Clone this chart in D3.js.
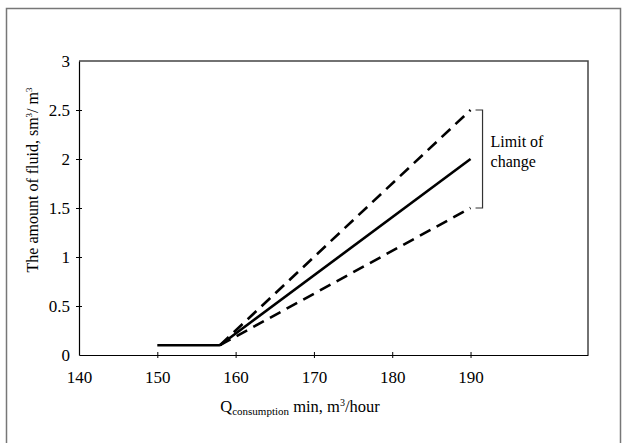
<!DOCTYPE html>
<html>
  <head>
    <meta charset="utf-8" />
    <script src="https://d3js.org/d3.v7.min.js"></script>
    <style>
        body { margin: 0; background: #fff; }
        svg text { font-family: "Liberation Serif", "Times New Roman", serif; fill: #000; }
    </style>
  </head>
  <body>
    <svg id="chart" width="622" height="443"></svg>
    <script>
        // data
        var xTicks = [140, 150, 160, 170, 180, 190];
        var yTicks = [0, 0.5, 1, 1.5, 2, 2.5, 3];
        var flatX = [150, 158];
        var flatY = [0.1, 0.1];
        var midX = [158, 190];
        var midY = [0.1, 2.0];
        var upperX = [158, 190];
        var upperY = [0.1, 2.5];
        var lowerX = [158, 190];
        var lowerY = [0.1, 1.5];
        var limitLabel = ["Limit of", "change"];

        var serif = "'Liberation Serif', 'Times New Roman', serif";
        var svg = d3.select("#chart");

        // outer frame
        svg.append("rect")
            .attr("x", 6.5).attr("y", 8.5)
            .attr("width", 614).attr("height", 460)
            .attr("fill", "none")
            .attr("stroke", "#777")
            .attr("stroke-width", 1.5);

        var pLeft = 79, pRight = 588, pTop = 61, pBottom = 355;

        var x = d3.scaleLinear().domain([140, 205]).range([pLeft, pRight]);
        var y = d3.scaleLinear().domain([0, 3]).range([pBottom, pTop]);

        // plot box (top + right)
        svg.append("path")
            .attr("d", "M" + pLeft + "," + pTop + "H" + pRight + "V" + pBottom)
            .attr("fill", "none")
            .attr("stroke", "#444")
            .attr("stroke-width", 1.5);

        var xAxis = svg.append("g")
            .attr("transform", "translate(0," + pBottom + ")")
            .call(d3.axisBottom(x).tickValues(xTicks).tickSize(0).tickPadding(16));
        xAxis.select(".domain").attr("stroke", "#000").attr("stroke-width", 1.2);
        xAxis.selectAll("text").style("font-family", serif).style("font-size", "17px");
        xAxis.selectAll(".tick").filter(function (d) { return d !== 140; })
            .append("line").attr("y1", -3).attr("y2", 3).attr("stroke", "#000");

        var yAxis = svg.append("g")
            .attr("transform", "translate(" + pLeft + ",0)")
            .call(d3.axisLeft(y).tickValues(yTicks).tickFormat(d3.format("~g")).tickSize(0).tickPadding(9));
        yAxis.select(".domain").attr("stroke", "#000").attr("stroke-width", 1.2);
        yAxis.selectAll("text").style("font-family", serif).style("font-size", "17px");
        yAxis.selectAll(".tick").filter(function (d) { return d !== 0 && d !== 3; })
            .append("line").attr("x1", -3).attr("x2", 3).attr("stroke", "#000");

        var line = d3.line()
            .x(function (d) { return x(d[0]); })
            .y(function (d) { return y(d[1]); });

        function series(xs, ys, dashed) {
            svg.append("path")
                .datum(d3.zip(xs, ys))
                .attr("d", line)
                .attr("fill", "none")
                .attr("stroke", "#000")
                .attr("stroke-width", 2.6)
                .attr("stroke-dasharray", dashed ? "12,7" : null);
        }
        series(flatX, flatY, false);
        series(midX, midY, false);
        series(upperX, upperY, true);
        series(lowerX, lowerY, true);

        // bracket
        var bx = x(190) + 12;
        svg.append("path")
            .attr("d", "M" + (bx - 7) + "," + y(2.5) + "H" + bx + "V" + y(1.5) + "H" + (bx - 7))
            .attr("fill", "none")
            .attr("stroke", "#333")
            .attr("stroke-width", 1.2);

        svg.append("g").selectAll("text")
            .data(limitLabel)
            .join("text")
            .attr("x", bx + 8)
            .attr("y", function (d, i) { return 147 + i * 20; })
            .style("font-family", serif)
            .style("font-size", "16px")
            .text(function (d) { return d; });

        // axis titles
        var yt = svg.append("text")
            .attr("transform", "translate(38,180) rotate(-90)")
            .attr("text-anchor", "middle")
            .style("font-family", serif)
            .style("font-size", "16px");
        yt.append("tspan").text("The amount of fluid, sm");
        yt.append("tspan").attr("dy", -6).style("font-size", "9px").text("3");
        yt.append("tspan").attr("dy", 6).text("/ m");
        yt.append("tspan").attr("dy", -6).style("font-size", "9px").text("3");

        var xt = svg.append("text")
            .attr("x", 300).attr("y", 412)
            .attr("text-anchor", "middle")
            .style("font-family", serif)
            .style("font-size", "16.5px");
        xt.append("tspan").text("Q");
        xt.append("tspan").attr("dy", 3).style("font-size", "11px").text("consumption");
        xt.append("tspan").attr("dy", -3).text(" min, m");
        xt.append("tspan").attr("dy", -6).style("font-size", "10px").text("3");
        xt.append("tspan").attr("dy", 6).text("/hour");
    </script>
  </body>
</html>
